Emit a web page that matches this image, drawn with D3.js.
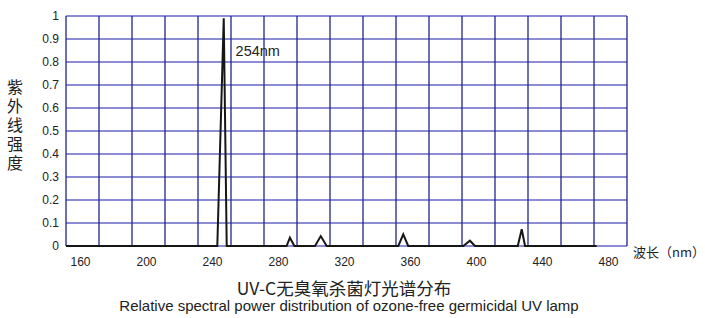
<!DOCTYPE html>
<html>
<head>
<meta charset="utf-8">
<script src="https://cdn.jsdelivr.net/npm/d3@7"></script>
<style>
  body { margin: 0; background: #fff; }
  text { font-family: "Liberation Sans", Arial, sans-serif; fill: #222; }
  .cjk { font-family: "Noto Sans CJK SC", sans-serif; }
</style>
</head>
<body>
<div id="chart"></div>
<script>
// wavelength (nm) and relative UV intensity
const wavelengths = [150, 241.7, 245.6, 247.4, 283.7, 285.7, 288.4, 300.9, 304.4, 308,
                     351.4, 354.4, 357.4, 390.8, 394.8, 397.9, 423.8, 426.2, 428.2, 471.6];
const intensity =   [0, 0, 0.99, 0, 0, 0.036, 0, 0, 0.043, 0,
                     0, 0.051, 0, 0, 0.023, 0, 0, 0.073, 0, 0];
const xTickLabels = [160, 200, 240, 280, 320, 360, 400, 440, 480];
const yTickLabels = [0, 0.1, 0.2, 0.3, 0.4, 0.5, 0.6, 0.7, 0.8, 0.9, 1];
const xGrid = d3.range(150, 491, 20);

const width = 705, height = 318;
const margin = { top: 16, right: 78, bottom: 72, left: 66 };
const innerW = width - margin.left - margin.right;
const innerH = height - margin.top - margin.bottom;

const svg = d3.select('#chart').append('svg')
    .attr('width', width)
    .attr('height', height);

const g = svg.append('g')
    .attr('transform', `translate(${margin.left},${margin.top})`);

const x = d3.scaleLinear().domain([150, 490]).range([0, innerW]);
const y = d3.scaleLinear().domain([0, 1]).range([innerH, 0]);

// horizontal grid (light)
g.selectAll('.hgrid')
    .data(yTickLabels)
    .join('line')
    .attr('class', 'hgrid')
    .attr('x1', 0).attr('x2', innerW)
    .attr('y1', d => y(d)).attr('y2', d => y(d))
    .attr('stroke', '#8c8cd2')
    .attr('stroke-width', 2);

// vertical grid (dark)
g.selectAll('.vgrid')
    .data(xGrid)
    .join('line')
    .attr('class', 'vgrid')
    .attr('x1', d => x(d)).attr('x2', d => x(d))
    .attr('y1', 0).attr('y2', innerH)
    .attr('stroke', '#23238f')
    .attr('stroke-width', 1.3);

// y tick labels
g.selectAll('.ylab')
    .data(yTickLabels)
    .join('text')
    .attr('class', 'ylab')
    .attr('x', -7)
    .attr('y', d => y(d))
    .attr('dy', '0.35em')
    .attr('text-anchor', 'end')
    .attr('font-size', 12)
    .text(d => d);

// x tick labels
g.selectAll('.xlab')
    .data(xTickLabels)
    .join('text')
    .attr('class', 'xlab')
    .attr('x', d => x(d) - 2)
    .attr('y', innerH + 16)
    .attr('dy', '0.35em')
    .attr('text-anchor', 'middle')
    .attr('font-size', 12)
    .text(d => d);

// spectrum line
const pts = wavelengths.map((w, i) => [w, intensity[i]]);
g.append('path')
    .datum(pts)
    .attr('fill', 'none')
    .attr('stroke', '#161616')
    .attr('stroke-width', 2)
    .attr('d', d3.line().x(d => x(d[0])).y(d => y(d[1])));

// peak annotation
g.append('text')
    .attr('x', x(254) - 2)
    .attr('y', y(0.85))
    .attr('dy', '0.35em')
    .attr('font-size', 14.5)
    .text('254nm');

// y axis title, vertical
svg.append('text')
    .attr('class', 'cjk')
    .attr('x', 15)
    .attr('y', 79)
    .attr('writing-mode', 'vertical-rl')
    .attr('letter-spacing', 3)
    .attr('font-size', 16)
    .text('紫外线强度');

// x axis title
svg.append('text')
    .attr('class', 'cjk')
    .attr('x', 633)
    .attr('y', 252)
    .attr('dy', '0.35em')
    .attr('font-size', 13)
    .text('波长（nm）');

// chart titles
svg.append('text')
    .attr('class', 'cjk')
    .attr('x', 344)
    .attr('y', 289)
    .attr('dy', '0.35em')
    .attr('text-anchor', 'middle')
    .attr('font-size', 17.5)
    .text('UV-C无臭氧杀菌灯光谱分布');

svg.append('text')
    .attr('x', 349)
    .attr('y', 305.5)
    .attr('dy', '0.35em')
    .attr('text-anchor', 'middle')
    .attr('font-size', 15)
    .text('Relative spectral power distribution of ozone-free germicidal UV lamp');
</script>
</body>
</html>
